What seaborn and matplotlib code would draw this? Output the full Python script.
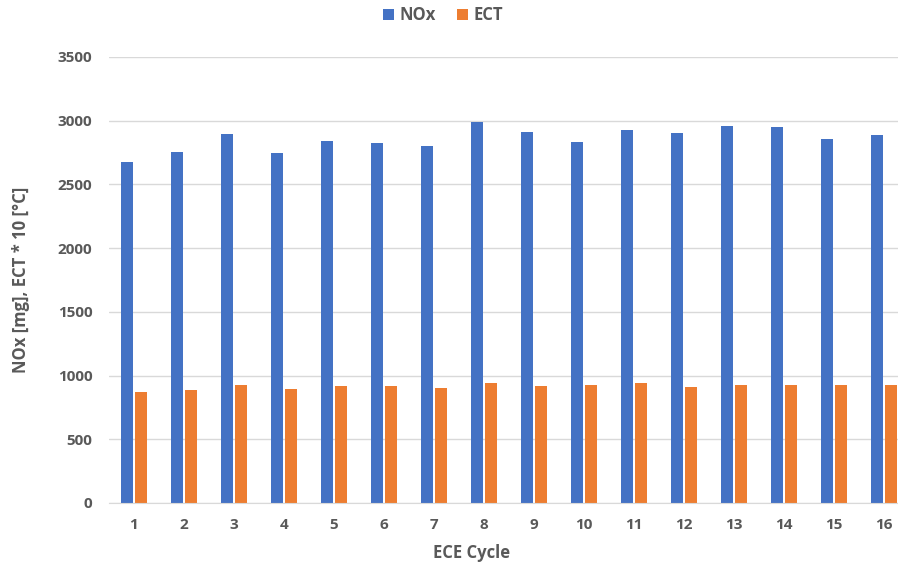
import numpy as np
import pandas as pd
import matplotlib
matplotlib.use('Agg')
import matplotlib.pyplot as plt
import seaborn as sns

# ----------------------------------------------------------------------------
# Data

cycles = [str(i) for i in range(1, 17)]
nox = [2678, 2757, 2896, 2747, 2843, 2822, 2804, 2990,
       2911, 2835, 2929, 2905, 2955, 2950, 2853, 2884]
ect = [872, 890, 927, 895, 917, 921, 901, 940,
       921, 924, 945, 911, 929, 929, 929, 929]
series = ['NOx', 'ECT']
colors = ['#4472C4', '#ED7D31']
y_ticks = [0, 500, 1000, 1500, 2000, 2500, 3000, 3500]

# ----------------------------------------------------------------------------

df = pd.DataFrame({'cycle': cycles * 2,
                   'value': nox + ect,
                   'series': ['NOx'] * len(nox) + ['ECT'] * len(ect)})

sns.set_style('white')
plt.rcParams['font.family'] = ['Open Sans', 'DejaVu Sans']
text_col = '#595959'

fig = plt.figure(figsize=(8.98, 5.64), dpi=100)
# plot area runs slightly past the right edge, like the cropped original
ax = fig.add_axes([109 / 898, 61 / 564, 800 / 898, 446 / 564])

sns.barplot(data=df, x='cycle', y='value', hue='series', hue_order=series,
            palette=colors, width=0.54, gap=0.14, saturation=1, linewidth=0,
            order=cycles, ax=ax, legend=True)

ax.set_ylim(0, 3500)
ax.set_yticks(y_ticks)
ax.set_xlim(-0.5, 15.5)
ax.yaxis.grid(True, color='#D9D9D9', linewidth=1)
ax.set_axisbelow(True)
for s in ['top', 'right', 'left']:
    ax.spines[s].set_visible(False)
ax.spines['bottom'].set_color('#D9D9D9')
ax.tick_params(axis='both', length=0, colors=text_col, labelsize=11)
ax.tick_params(axis='x', pad=11)
ax.tick_params(axis='y', pad=12)
for lab in ax.get_xticklabels() + ax.get_yticklabels():
    lab.set_fontweight('bold')

# x label sits centred on the visible part of the chart, not the full axes
ax.set_xlabel('ECE Cycle', color=text_col, fontsize=12, fontweight='bold')
ax.xaxis.set_label_coords((472 - 109) / 800, -0.093)
ax.set_ylabel('NOx [mg], ECT * 10 [°C]', color=text_col, fontsize=12,
              fontweight='bold', labelpad=20)

handles, labels = ax.get_legend_handles_labels()
ax.legend(handles, labels, loc='center', bbox_to_anchor=(443 / 898, 1 - 15 / 564),
          bbox_transform=fig.transFigure, ncol=2, frameon=False,
          prop={'weight': 'bold', 'size': 12}, labelcolor=text_col,
          handlelength=0.65, handleheight=0.65, handletextpad=0.3, columnspacing=1.3)

fig.savefig('out.png', dpi=100)
